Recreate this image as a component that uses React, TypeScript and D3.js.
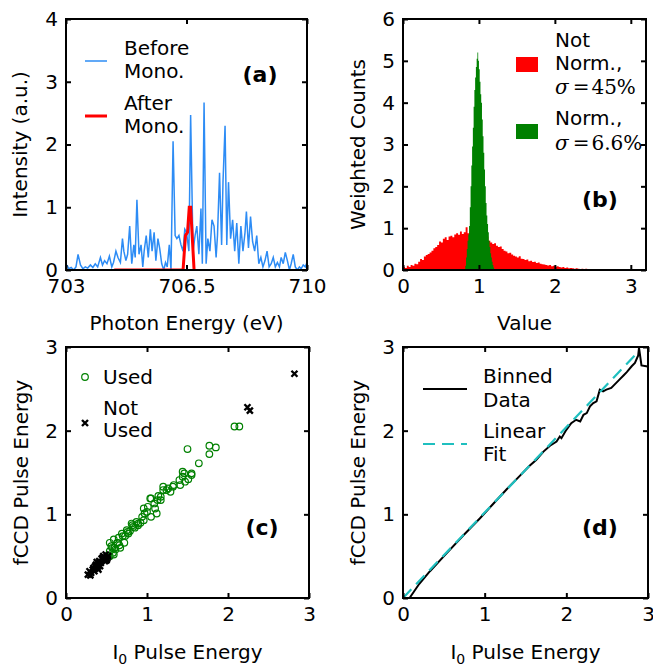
import React, { useEffect, useRef } from "react";
import * as d3 from "d3";

// (a) spectrum before / after the monochromator
const energyEv = [
  703.03, 703.08, 703.15, 703.22, 703.29, 703.35, 703.42, 703.49, 703.56, 703.63,
  703.71, 703.78, 703.85, 703.92, 704.0, 704.06, 704.12, 704.19, 704.26, 704.33,
  704.38, 704.45, 704.51, 704.58, 704.64, 704.68, 704.74, 704.79, 704.85, 704.91,
  704.97, 705.01, 705.06, 705.12, 705.18, 705.23, 705.27, 705.33, 705.39, 705.45,
  705.5, 705.56, 705.61, 705.67, 705.72, 705.78, 705.84, 705.89, 705.94, 706.0,
  706.05, 706.11, 706.17, 706.22, 706.28, 706.34, 706.4, 706.45, 706.5, 706.57,
  706.62, 706.69, 706.75, 706.8, 706.86, 706.92, 706.96, 707.01, 707.07, 707.12,
  707.18, 707.24, 707.3, 707.36, 707.4, 707.46, 707.52, 707.56, 707.62, 707.67,
  707.72, 707.78, 707.84, 707.9, 707.96, 708.02, 708.08, 708.14, 708.2, 708.24,
  708.3, 708.36, 708.42, 708.48, 708.54, 708.6, 708.66, 708.72, 708.78, 708.84,
  708.9, 708.96, 709.02, 709.08, 709.14, 709.2, 709.25, 709.31, 709.37, 709.43,
  709.49, 709.54, 709.6, 709.66, 709.72, 709.78, 709.83, 709.89, 709.95, 710.0,
];
const beforeMono = [
  0.08, 0.02, 0.04, 0.0, 0.05, 0.25, 0.08, 0.02, 0.05, 0.03,
  0.08, 0.04, 0.1, 0.05, 0.2, 0.08, 0.15, 0.1, 0.22, 0.05,
  0.12, 0.3, 0.2, 0.12, 0.5, 0.3, 0.15, 0.25, 0.7, 0.1,
  0.4, 0.2, 1.12, 0.25, 0.4, 0.05, 0.3, 0.55, 0.2, 0.65,
  0.3, 0.6, 0.15, 0.5, 0.35, 0.1, 0.0, 0.12, 0.05, 0.4,
  0.0, 2.05, 0.55, 0.5, 0.55, 0.4, 0.3, 0.65, 0.6, 0.3,
  2.47, 0.3, 0.55, 0.7, 0.25, 0.98, 0.1, 2.67, 0.1, 0.5,
  0.3, 0.8, 0.7, 0.2, 0.55, 1.55, 0.4, 1.4, 2.3, 0.4,
  1.4, 0.5, 0.8, 0.3, 0.75, 0.1, 0.7, 0.3, 0.6, 0.93,
  0.35, 0.85, 0.45, 0.3, 0.55, 0.1, 0.2, 0.05, 0.15, 0.3,
  0.05, 0.1, 0.2, 0.05, 0.12, 0.05, 0.2, 0.1, 0.28, 0.15,
  0.0, 0.1, 0.25, 0.05, 0.0, 0.05, 0.02, 0.08, 0.05, 0.12,
];
const afterEnergyEv = [704.4, 706.4, 706.47, 706.53, 706.58, 706.62, 706.69, 706.72];
const afterMono = [0, 0, 0.55, 0.6, 1.0, 1.0, 0.3, 0];
const spectrumTicks = [703, 706.5, 710];

// (b) weighted histograms, bins start at the given value
const notNormStart = 0;
const notNormBin = 0.025;
const notNormCounts = [
  0.08, 0.05, 0.1, 0.07, 0.12, 0.1, 0.15, 0.14, 0.2, 0.26,
  0.24, 0.32, 0.36, 0.38, 0.42, 0.46, 0.52, 0.55, 0.6, 0.68,
  0.66, 0.75, 0.78, 0.72, 0.8, 0.82, 0.78, 0.85, 0.88, 0.84,
  0.92, 0.86, 0.9, 1.02, 0.88, 0.92, 0.86, 0.88, 0.85, 0.84,
  0.82, 0.8, 0.78, 0.76, 0.8, 0.7, 0.66, 0.62, 0.64, 0.58,
  0.55, 0.56, 0.5, 0.46, 0.44, 0.4, 0.41, 0.37, 0.34, 0.32,
  0.3, 0.33, 0.27, 0.26, 0.24, 0.25, 0.21, 0.22, 0.19, 0.2,
  0.17, 0.18, 0.15, 0.14, 0.13, 0.12, 0.11, 0.12, 0.09, 0.1,
  0.08, 0.09, 0.07, 0.06, 0.07, 0.05, 0.06, 0.04, 0.05, 0.04,
  0.03, 0.04, 0.03, 0.02, 0.03, 0.02, 0.03, 0.02, 0.02, 0.01,
  0.02, 0.01, 0.02, 0.01, 0.01, 0.02, 0.01, 0.01, 0.01, 0.005,
  0.01, 0.005, 0.01, 0.005, 0.005, 0.005,
];
const normStart = 0.82;
const normBin = 0.01;
const normCounts = [
  0.1, 0.3, 0.5, 0.7, 0.85, 1.05, 1.5, 2.0, 2.5, 2.95,
  3.4, 3.9, 4.3, 4.6, 4.85, 5.05, 5.2, 5.0, 4.8, 4.5,
  4.2, 4.0, 3.6, 3.2, 2.8, 2.4, 2.0, 1.6, 1.3, 1.1,
  0.9, 0.7, 0.55, 0.4, 0.3, 0.2, 0.12, 0.06,
];

// (c) fCCD vs I0 pulse energy
const usedI0 = [
  2.08, 2.14, 1.5, 1.77, 1.85, 1.77, 1.64, 1.46, 1.44, 1.55,
  1.51, 1.47, 1.41, 1.33, 1.26, 1.2, 1.29, 1.14, 1.2, 1.04,
  1.17, 1.09, 1.1, 0.96, 1.0, 1.12, 1.05, 0.94, 0.96, 0.87,
  0.89, 0.81, 0.83, 0.75, 0.77, 0.69, 0.73, 0.65, 0.59, 0.72,
  0.63, 0.56, 0.67, 0.61, 0.54, 0.59, 0.54, 1.4, 1.32, 1.24,
  1.17, 1.13, 1.05, 1.01, 0.97, 0.89, 0.82, 0.76, 0.7, 0.64,
  0.6, 0.58, 0.54, 1.55, 1.44, 0.92, 0.85, 0.79, 0.66, 0.57,
];
const usedFccd = [
  2.05, 2.05, 1.78, 1.82, 1.8, 1.72, 1.61, 1.49, 1.45, 1.49,
  1.42, 1.39, 1.35, 1.35, 1.31, 1.33, 1.27, 1.22, 1.29, 1.19,
  1.17, 1.13, 1.07, 1.07, 1.03, 1.01, 0.97, 0.97, 0.93, 0.91,
  0.87, 0.89, 0.85, 0.81, 0.77, 0.77, 0.74, 0.72, 0.7, 0.66,
  0.66, 0.62, 0.6, 0.58, 0.56, 0.52, 0.5, 1.41, 1.33, 1.29,
  1.21, 1.17, 1.19, 1.09, 1.01, 0.89, 0.87, 0.79, 0.74, 0.66,
  0.6, 0.54, 0.66, 1.47, 1.51, 0.9, 0.84, 0.8, 0.63, 0.6,
];
const notUsedI0 = [
  0.27, 0.31, 0.33, 0.35, 0.37, 0.39, 0.41, 0.43, 0.45, 0.47,
  0.49, 0.52, 0.3, 0.36, 0.4, 0.44, 0.48, 0.5, 0.38, 0.42,
  0.46, 0.34, 0.51, 0.29, 0.4, 2.24, 2.27, 2.82,
];
const notUsedFccd = [
  0.28, 0.3, 0.34, 0.32, 0.4, 0.36, 0.44, 0.42, 0.48, 0.46,
  0.52, 0.5, 0.27, 0.38, 0.34, 0.47, 0.44, 0.45, 0.43, 0.38,
  0.5, 0.36, 0.47, 0.32, 0.41, 2.28, 2.24, 2.68,
];

// (d) binned data and linear fit
const binnedI0 = [
  0.08, 0.2, 0.33, 0.53, 0.74, 0.94, 1.1, 1.27, 1.43, 1.55,
  1.63, 1.72, 1.8, 1.88, 1.92, 1.94, 2.0, 2.06, 2.12, 2.17,
  2.21, 2.25, 2.29, 2.33, 2.37, 2.41, 2.45, 2.49, 2.55, 2.59,
  2.65, 2.7, 2.74, 2.8, 2.84, 2.88, 2.89, 2.92, 2.98, 3.02,
];
const binnedFccd = [
  0.0, 0.17, 0.32, 0.53, 0.75, 0.95, 1.12, 1.3, 1.46, 1.58,
  1.65, 1.75, 1.82, 1.87, 1.93, 1.91, 2.01, 2.09, 2.13, 2.11,
  2.19, 2.21, 2.29, 2.33, 2.35, 2.49, 2.47, 2.49, 2.51, 2.55,
  2.61, 2.66, 2.7, 2.77, 2.81, 2.9, 2.99, 2.78, 2.77, 2.76,
];
const fitI0 = [0, 2.85];
const fitFccd = [0, 2.91];
const unitTicks = [0, 1, 2, 3];

const FONT = "'DejaVu Sans', sans-serif";

function frame(svg, p, x, y, xTicks, yTicks, xFmt) {
  const g = svg.append("g");
  g.append("g")
    .attr("transform", `translate(0,${p.bottom})`)
    .call(d3.axisBottom(x).tickValues(xTicks).tickFormat(xFmt).tickSize(-5).tickPadding(9));
  g.append("g")
    .attr("transform", `translate(0,${p.top})`)
    .call(d3.axisTop(x).tickValues(xTicks).tickFormat(() => "").tickSize(-5));
  g.append("g")
    .attr("transform", `translate(${p.left},0)`)
    .call(d3.axisLeft(y).tickValues(yTicks).tickFormat(d3.format("d")).tickSize(-5).tickPadding(8));
  g.append("g")
    .attr("transform", `translate(${p.right},0)`)
    .call(d3.axisRight(y).tickValues(yTicks).tickFormat(() => "").tickSize(-5));
  g.selectAll(".domain").remove();
  g.selectAll(".tick line").attr("stroke", "#000").attr("stroke-width", 2);
  g.selectAll(".tick text")
    .attr("font-size", 20)
    .attr("font-family", FONT)
    .attr("fill", "#000");
  g.append("rect")
    .attr("x", p.left)
    .attr("y", p.top)
    .attr("width", p.right - p.left)
    .attr("height", p.bottom - p.top)
    .attr("fill", "none")
    .attr("stroke", "#000")
    .attr("stroke-width", 2);
}

function clip(svg, id, p) {
  svg
    .append("clipPath")
    .attr("id", id)
    .append("rect")
    .attr("x", p.left)
    .attr("y", p.top)
    .attr("width", p.right - p.left)
    .attr("height", p.bottom - p.top);
  return svg.append("g").attr("clip-path", `url(#${id})`);
}

function label(svg, x, y, s, opts = {}) {
  return svg
    .append("text")
    .attr("x", x)
    .attr("y", y)
    .attr("font-family", FONT)
    .attr("font-size", opts.size || 20)
    .attr("font-weight", opts.bold ? "bold" : "normal")
    .attr("text-anchor", opts.anchor || "start")
    .text(s);
}

function yLabel(svg, cx, cy, s) {
  svg
    .append("text")
    .attr("transform", `translate(${cx},${cy}) rotate(-90)`)
    .attr("dy", "0.35em")
    .attr("text-anchor", "middle")
    .attr("font-family", FONT)
    .attr("font-size", 20)
    .text(s);
}

function i0Label(svg, cx, y) {
  const t = svg
    .append("text")
    .attr("x", cx)
    .attr("y", y)
    .attr("text-anchor", "middle")
    .attr("font-family", FONT)
    .attr("font-size", 20);
  t.append("tspan").text("I");
  t.append("tspan").attr("font-size", 14).attr("dy", 5).text("0");
  t.append("tspan").attr("dy", -5).text(" Pulse Energy");
}

function xMark(g, cx, cy) {
  g.append("path")
    .attr("d", `M${cx - 3},${cy - 3}L${cx + 3},${cy + 3}M${cx - 3},${cy + 3}L${cx + 3},${cy - 3}`)
    .attr("stroke", "#000")
    .attr("stroke-width", 2.4);
}

export default function App() {
  const ref = useRef(null);

  useEffect(() => {
    d3.select(ref.current).selectAll("*").remove();
    const svg = d3.select(ref.current);

    // ---------- (a)
    const pa = { left: 66, right: 307, top: 19, bottom: 270 };
    const xa = d3.scaleLinear().domain([703, 710]).range([pa.left, pa.right]);
    const ya = d3.scaleLinear().domain([0, 4]).range([pa.bottom, pa.top]);
    const ga = clip(svg, "clip-a", pa);
    ga.append("path")
      .attr("d", d3.line().x((_, i) => xa(energyEv[i])).y((d) => ya(d))(beforeMono))
      .attr("fill", "none")
      .attr("stroke", "#2d8cf5")
      .attr("stroke-width", 1.5);
    ga.append("path")
      .attr("d", d3.line().x((_, i) => xa(afterEnergyEv[i])).y((d) => ya(d))(afterMono))
      .attr("fill", "none")
      .attr("stroke", "#ff0000")
      .attr("stroke-width", 3);
    frame(svg, pa, xa, ya, spectrumTicks, [0, 1, 2, 3, 4], (d) => (d === 706.5 ? "706.5" : String(d)));
    svg.append("line").attr("x1", 85).attr("x2", 107).attr("y1", 61).attr("y2", 61)
      .attr("stroke", "#2d8cf5").attr("stroke-width", 1.5);
    svg.append("line").attr("x1", 85).attr("x2", 107).attr("y1", 116).attr("y2", 116)
      .attr("stroke", "#ff0000").attr("stroke-width", 3);
    label(svg, 124, 55, "Before");
    label(svg, 124, 78, "Mono.");
    label(svg, 124, 110, "After");
    label(svg, 124, 133, "Mono.");
    label(svg, 260, 82, "(a)", { bold: true, anchor: "middle", size: 22 });
    yLabel(svg, 20, (pa.top + pa.bottom) / 2, "Intensity (a.u.)");
    label(svg, (pa.left + pa.right) / 2, 330, "Photon Energy (eV)", { anchor: "middle" });

    // ---------- (b)
    const pb = { left: 403, right: 646, top: 19, bottom: 270 };
    const xb = d3.scaleLinear().domain([0, 3.2]).range([pb.left, pb.right]);
    const yb = d3.scaleLinear().domain([0, 6]).range([pb.bottom, pb.top]);
    const gb = clip(svg, "clip-b", pb);
    const stepArea = (start, bin, counts) =>
      d3
        .area()
        .curve(d3.curveStepAfter)
        .x((_, i) => xb(start + i * bin))
        .y0(yb(0))
        .y1((d) => yb(d))([...counts, counts[counts.length - 1]]);
    gb.append("path").attr("d", stepArea(notNormStart, notNormBin, notNormCounts)).attr("fill", "#ff0000");
    gb.append("path").attr("d", stepArea(normStart, normBin, normCounts)).attr("fill", "#008000");
    frame(svg, pb, xb, yb, unitTicks, [0, 1, 2, 3, 4, 5, 6], d3.format("d"));
    svg.append("rect").attr("x", 516).attr("y", 57).attr("width", 22).attr("height", 15).attr("fill", "#ff0000");
    svg.append("rect").attr("x", 516).attr("y", 124).attr("width", 22).attr("height", 15).attr("fill", "#008000");
    label(svg, 555, 47, "Not");
    label(svg, 555, 70, "Norm.,");
    label(svg, 555, 125, "Norm.,");
    [["45%", 94], ["6.6%", 150]].forEach(([v, by]) => {
      const t = svg.append("text").attr("x", 555).attr("y", by)
        .attr("font-family", "'DejaVu Serif', serif").attr("font-size", 20);
      t.append("tspan").attr("font-style", "italic").text("σ");
      t.append("tspan").attr("dx", 4).text("=");
      t.append("tspan").attr("dx", 2).text(v);
    });
    label(svg, 600, 207, "(b)", { bold: true, anchor: "middle", size: 22 });
    yLabel(svg, 358, (pb.top + pb.bottom) / 2, "Weighted Counts");
    label(svg, (pb.left + pb.right) / 2, 330, "Value", { anchor: "middle" });

    // ---------- (c)
    const pc = { left: 66, right: 309, top: 347, bottom: 598 };
    const xc = d3.scaleLinear().domain([0, 3]).range([pc.left, pc.right]);
    const yc = d3.scaleLinear().domain([0, 3]).range([pc.bottom, pc.top]);
    const gc = clip(svg, "clip-c", pc);
    usedI0.forEach((v, i) => {
      gc.append("circle").attr("cx", xc(v)).attr("cy", yc(usedFccd[i])).attr("r", 3.3)
        .attr("fill", "none").attr("stroke", "#008000").attr("stroke-width", 1.2);
    });
    notUsedI0.forEach((v, i) => xMark(gc, xc(v), yc(notUsedFccd[i])));
    frame(svg, pc, xc, yc, unitTicks, unitTicks, d3.format("d"));
    svg.append("circle").attr("cx", 85).attr("cy", 377).attr("r", 3.3)
      .attr("fill", "none").attr("stroke", "#008000").attr("stroke-width", 1.2);
    xMark(svg, 85, 423);
    label(svg, 103, 384, "Used");
    label(svg, 103, 415, "Not");
    label(svg, 103, 437, "Used");
    label(svg, 262, 535, "(c)", { bold: true, anchor: "middle", size: 22 });
    yLabel(svg, 21, (pc.top + pc.bottom) / 2, "fCCD Pulse Energy");
    i0Label(svg, (pc.left + pc.right) / 2, 659);

    // ---------- (d)
    const pd = { left: 403, right: 648, top: 347, bottom: 598 };
    const xd = d3.scaleLinear().domain([0, 3]).range([pd.left, pd.right]);
    const yd = d3.scaleLinear().domain([0, 3]).range([pd.bottom, pd.top]);
    const gd = clip(svg, "clip-d", pd);
    gd.append("path")
      .attr("d", d3.line().x((_, i) => xd(binnedI0[i])).y((d) => yd(d))(binnedFccd))
      .attr("fill", "none")
      .attr("stroke", "#000")
      .attr("stroke-width", 2);
    gd.append("path")
      .attr("d", d3.line().x((_, i) => xd(fitI0[i])).y((d) => yd(d))(fitFccd))
      .attr("fill", "none")
      .attr("stroke", "#1fbfbf")
      .attr("stroke-width", 2.2)
      .attr("stroke-dasharray", "12,7");
    frame(svg, pd, xd, yd, unitTicks, unitTicks, d3.format("d"));
    svg.append("line").attr("x1", 423).attr("x2", 467).attr("y1", 389).attr("y2", 389)
      .attr("stroke", "#000").attr("stroke-width", 2);
    svg.append("line").attr("x1", 423).attr("x2", 467).attr("y1", 444).attr("y2", 444)
      .attr("stroke", "#1fbfbf").attr("stroke-width", 2.2).attr("stroke-dasharray", "12,7");
    label(svg, 483, 383, "Binned");
    label(svg, 483, 407, "Data");
    label(svg, 483, 438, "Linear");
    label(svg, 483, 461, "Fit");
    label(svg, 600, 535, "(d)", { bold: true, anchor: "middle", size: 22 });
    yLabel(svg, 358, (pd.top + pd.bottom) / 2, "fCCD Pulse Energy");
    i0Label(svg, (pd.left + pd.right) / 2, 659);
  }, []);

  return (
    <svg
      ref={ref}
      width={653}
      height={664}
      style={{ position: "absolute", left: 0, top: 0, background: "#fff" }}
    />
  );
}
